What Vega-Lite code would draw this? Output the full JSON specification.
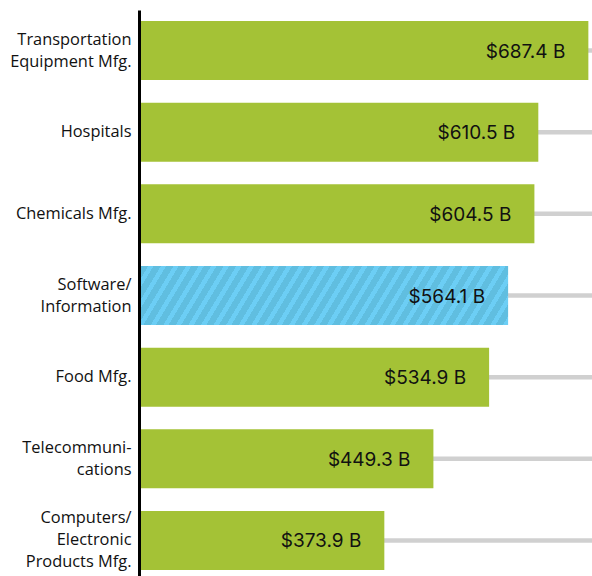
{
  "$schema": "https://vega.github.io/schema/vega-lite/v6.json",
  "width": 451,
  "height": 571,
  "autosize": "none",
  "padding": {"left": 141, "top": 10, "right": 0, "bottom": 0},
  "background": "white",
  "config": {"view": {"stroke": null}},
  "data": {
    "values": [
      {"industry": "Transportation|Equipment Mfg.", "value": 687.4, "label": "$687.4 B", "highlight": "no"},
      {"industry": "Hospitals", "value": 610.5, "label": "$610.5 B", "highlight": "no"},
      {"industry": "Chemicals Mfg.", "value": 604.5, "label": "$604.5 B", "highlight": "no"},
      {"industry": "Software/|Information", "value": 564.1, "label": "$564.1 B", "highlight": "yes"},
      {"industry": "Food Mfg.", "value": 534.9, "label": "$534.9 B", "highlight": "no"},
      {"industry": "Telecommuni-|cations", "value": 449.3, "label": "$449.3 B", "highlight": "no"},
      {"industry": "Computers/|Electronic|Products Mfg.", "value": 373.9, "label": "$373.9 B", "highlight": "no"}
    ]
  },
  "encoding": {
    "y": {
      "field": "industry",
      "type": "nominal",
      "sort": null,
      "scale": {"paddingInner": 0.277, "paddingOuter": 0.135},
      "axis": {
        "title": null,
        "domainColor": "black",
        "domainWidth": 3,
        "offset": 2,
        "ticks": false,
        "tickSize": 0,
        "labelPadding": 8,
        "labelFont": "Open Sans",
        "labelFontSize": 16.4,
        "labelColor": "#111111",
        "labelLineHeight": 22,
        "labelLimit": 200,
        "labelExpr": "split(datum.label, '|')",
        "labelOffset": {"expr": "-(length(split(datum.label, '|')) - 1) * 11"}
      }
    }
  },
  "layer": [
    {
      "mark": {"type": "rule", "color": "#d0d0d0", "strokeWidth": 4.5},
      "encoding": {
        "x": {"datum": 0, "type": "quantitative", "scale": {"domain": [0, 693], "nice": false, "zero": true}, "axis": null},
        "x2": {"datum": 693}
      }
    },
    {
      "transform": [{"filter": "datum.highlight == 'no'"}],
      "mark": {"type": "bar", "color": "#a4c236"},
      "encoding": {
        "x": {"field": "value", "type": "quantitative"}
      }
    },
    {
      "transform": [{"filter": "datum.highlight == 'yes'"}],
      "mark": {
        "type": "bar",
        "fill": {
          "gradient": "linear",
          "x1": 0, "y1": 0, "x2": 1.0864, "y2": 0.1048,
          "stops": [
            {"offset": 0, "color": "#60bee0"}, {"offset": 0.018125, "color": "#60bee0"}, {"offset": 0.018125, "color": "#6ccef5"}, {"offset": 0.03125, "color": "#6ccef5"},
            {"offset": 0.03125, "color": "#60bee0"}, {"offset": 0.049375, "color": "#60bee0"}, {"offset": 0.049375, "color": "#6ccef5"}, {"offset": 0.0625, "color": "#6ccef5"},
            {"offset": 0.0625, "color": "#60bee0"}, {"offset": 0.080625, "color": "#60bee0"}, {"offset": 0.080625, "color": "#6ccef5"}, {"offset": 0.09375, "color": "#6ccef5"},
            {"offset": 0.09375, "color": "#60bee0"}, {"offset": 0.111875, "color": "#60bee0"}, {"offset": 0.111875, "color": "#6ccef5"}, {"offset": 0.125, "color": "#6ccef5"},
            {"offset": 0.125, "color": "#60bee0"}, {"offset": 0.143125, "color": "#60bee0"}, {"offset": 0.143125, "color": "#6ccef5"}, {"offset": 0.15625, "color": "#6ccef5"},
            {"offset": 0.15625, "color": "#60bee0"}, {"offset": 0.174375, "color": "#60bee0"}, {"offset": 0.174375, "color": "#6ccef5"}, {"offset": 0.1875, "color": "#6ccef5"},
            {"offset": 0.1875, "color": "#60bee0"}, {"offset": 0.205625, "color": "#60bee0"}, {"offset": 0.205625, "color": "#6ccef5"}, {"offset": 0.21875, "color": "#6ccef5"},
            {"offset": 0.21875, "color": "#60bee0"}, {"offset": 0.236875, "color": "#60bee0"}, {"offset": 0.236875, "color": "#6ccef5"}, {"offset": 0.25, "color": "#6ccef5"},
            {"offset": 0.25, "color": "#60bee0"}, {"offset": 0.268125, "color": "#60bee0"}, {"offset": 0.268125, "color": "#6ccef5"}, {"offset": 0.28125, "color": "#6ccef5"},
            {"offset": 0.28125, "color": "#60bee0"}, {"offset": 0.299375, "color": "#60bee0"}, {"offset": 0.299375, "color": "#6ccef5"}, {"offset": 0.3125, "color": "#6ccef5"},
            {"offset": 0.3125, "color": "#60bee0"}, {"offset": 0.330625, "color": "#60bee0"}, {"offset": 0.330625, "color": "#6ccef5"}, {"offset": 0.34375, "color": "#6ccef5"},
            {"offset": 0.34375, "color": "#60bee0"}, {"offset": 0.361875, "color": "#60bee0"}, {"offset": 0.361875, "color": "#6ccef5"}, {"offset": 0.375, "color": "#6ccef5"},
            {"offset": 0.375, "color": "#60bee0"}, {"offset": 0.393125, "color": "#60bee0"}, {"offset": 0.393125, "color": "#6ccef5"}, {"offset": 0.40625, "color": "#6ccef5"},
            {"offset": 0.40625, "color": "#60bee0"}, {"offset": 0.424375, "color": "#60bee0"}, {"offset": 0.424375, "color": "#6ccef5"}, {"offset": 0.4375, "color": "#6ccef5"},
            {"offset": 0.4375, "color": "#60bee0"}, {"offset": 0.455625, "color": "#60bee0"}, {"offset": 0.455625, "color": "#6ccef5"}, {"offset": 0.46875, "color": "#6ccef5"},
            {"offset": 0.46875, "color": "#60bee0"}, {"offset": 0.486875, "color": "#60bee0"}, {"offset": 0.486875, "color": "#6ccef5"}, {"offset": 0.5, "color": "#6ccef5"},
            {"offset": 0.5, "color": "#60bee0"}, {"offset": 0.518125, "color": "#60bee0"}, {"offset": 0.518125, "color": "#6ccef5"}, {"offset": 0.53125, "color": "#6ccef5"},
            {"offset": 0.53125, "color": "#60bee0"}, {"offset": 0.549375, "color": "#60bee0"}, {"offset": 0.549375, "color": "#6ccef5"}, {"offset": 0.5625, "color": "#6ccef5"},
            {"offset": 0.5625, "color": "#60bee0"}, {"offset": 0.580625, "color": "#60bee0"}, {"offset": 0.580625, "color": "#6ccef5"}, {"offset": 0.59375, "color": "#6ccef5"},
            {"offset": 0.59375, "color": "#60bee0"}, {"offset": 0.611875, "color": "#60bee0"}, {"offset": 0.611875, "color": "#6ccef5"}, {"offset": 0.625, "color": "#6ccef5"},
            {"offset": 0.625, "color": "#60bee0"}, {"offset": 0.643125, "color": "#60bee0"}, {"offset": 0.643125, "color": "#6ccef5"}, {"offset": 0.65625, "color": "#6ccef5"},
            {"offset": 0.65625, "color": "#60bee0"}, {"offset": 0.674375, "color": "#60bee0"}, {"offset": 0.674375, "color": "#6ccef5"}, {"offset": 0.6875, "color": "#6ccef5"},
            {"offset": 0.6875, "color": "#60bee0"}, {"offset": 0.705625, "color": "#60bee0"}, {"offset": 0.705625, "color": "#6ccef5"}, {"offset": 0.71875, "color": "#6ccef5"},
            {"offset": 0.71875, "color": "#60bee0"}, {"offset": 0.736875, "color": "#60bee0"}, {"offset": 0.736875, "color": "#6ccef5"}, {"offset": 0.75, "color": "#6ccef5"},
            {"offset": 0.75, "color": "#60bee0"}, {"offset": 0.768125, "color": "#60bee0"}, {"offset": 0.768125, "color": "#6ccef5"}, {"offset": 0.78125, "color": "#6ccef5"},
            {"offset": 0.78125, "color": "#60bee0"}, {"offset": 0.799375, "color": "#60bee0"}, {"offset": 0.799375, "color": "#6ccef5"}, {"offset": 0.8125, "color": "#6ccef5"},
            {"offset": 0.8125, "color": "#60bee0"}, {"offset": 0.830625, "color": "#60bee0"}, {"offset": 0.830625, "color": "#6ccef5"}, {"offset": 0.84375, "color": "#6ccef5"},
            {"offset": 0.84375, "color": "#60bee0"}, {"offset": 0.861875, "color": "#60bee0"}, {"offset": 0.861875, "color": "#6ccef5"}, {"offset": 0.875, "color": "#6ccef5"},
            {"offset": 0.875, "color": "#60bee0"}, {"offset": 0.893125, "color": "#60bee0"}, {"offset": 0.893125, "color": "#6ccef5"}, {"offset": 0.90625, "color": "#6ccef5"},
            {"offset": 0.90625, "color": "#60bee0"}, {"offset": 0.924375, "color": "#60bee0"}, {"offset": 0.924375, "color": "#6ccef5"}, {"offset": 0.9375, "color": "#6ccef5"},
            {"offset": 0.9375, "color": "#60bee0"}, {"offset": 0.955625, "color": "#60bee0"}, {"offset": 0.955625, "color": "#6ccef5"}, {"offset": 0.96875, "color": "#6ccef5"},
            {"offset": 0.96875, "color": "#60bee0"}, {"offset": 0.986875, "color": "#60bee0"}, {"offset": 0.986875, "color": "#6ccef5"}, {"offset": 1, "color": "#6ccef5"}
          ]
        }
      },
      "encoding": {
        "x": {"field": "value", "type": "quantitative"}
      }
    },
    {
      "mark": {"type": "text", "align": "right", "baseline": "middle", "dx": -23, "dy": 1, "font": "Inter", "fontSize": 19, "letterSpacing": 0.5, "color": "#111111"},
      "encoding": {
        "x": {"field": "value", "type": "quantitative"},
        "text": {"field": "label", "type": "nominal"}
      }
    }
  ]
}
